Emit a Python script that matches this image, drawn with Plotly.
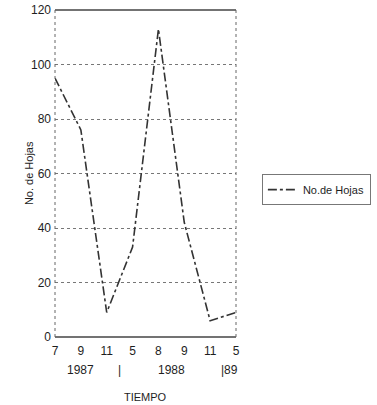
import plotly.graph_objects as go

# Data
month_labels = ["7", "9", "11", "5", "8", "9", "11", "5"]
hojas = [95, 76, 9, 33, 113, 42, 6, 9]
year_labels = ["1987", "|", "1988", "|89"]
year_pos = [1.0, 2.5, 4.5, 6.75]
y_ticks = [0, 20, 40, 60, 80, 100, 120]

x_idx = list(range(len(month_labels)))
ink = "#1e1e1e"
font_family = "Liberation Sans, Arial, sans-serif"

fig = go.Figure()
fig.add_trace(go.Scatter(
    x=x_idx, y=hojas, mode="lines", name="No.de Hojas",
    line=dict(color="#333333", width=1.6, dash="dashdot"),
))

fig.update_layout(
    width=377, height=405,
    margin=dict(l=55, r=141, t=10, b=68, autoexpand=False),
    paper_bgcolor="white", plot_bgcolor="white",
    font=dict(family=font_family, color=ink, size=12),
    showlegend=True,
    legend=dict(
        x=1.143, y=0.498, xanchor="left", yanchor="top",
        bgcolor="rgba(0,0,0,0)", bordercolor="#777", borderwidth=1,
        font=dict(size=11, color=ink), itemwidth=30,
    ),
    xaxis=dict(
        range=[0, 7], tickvals=x_idx, ticktext=month_labels,
        showgrid=False, zeroline=False, showline=False, automargin=False,
        ticks="", ticklabelstandoff=5, tickfont=dict(size=12, color=ink),
    ),
    yaxis=dict(
        range=[0, 120], tickvals=y_ticks, showgrid=True,
        gridcolor="#777", griddash="dot", gridwidth=1, automargin=False,
        zeroline=False, showline=False, ticks="", ticklabelstandoff=3,
        tickfont=dict(size=12, color=ink),
    ),
)

# frame: solid top/bottom, dotted sides
fig.add_shape(type="line", xref="paper", yref="paper", x0=0, x1=1, y0=1, y1=1,
              line=dict(color="#444", width=1.5))
fig.add_shape(type="line", xref="paper", yref="paper", x0=0, x1=1, y0=0, y1=0,
              line=dict(color="#444", width=1.5))
fig.add_shape(type="line", xref="paper", yref="paper", x0=0, x1=0, y0=0, y1=1,
              line=dict(color="#666", width=1, dash="dot"))
fig.add_shape(type="line", xref="paper", yref="paper", x0=1, x1=1, y0=0, y1=1,
              line=dict(color="#666", width=1, dash="dot"))

for lab, pos in zip(year_labels, year_pos):
    fig.add_annotation(x=pos, y=-0.101, xref="x", yref="paper", text=lab,
                       yanchor="middle", showarrow=False,
                       font=dict(size=12, color=ink))

fig.add_annotation(x=0.5, y=-0.183, xref="paper", yref="paper", text="TIEMPO",
                   yanchor="middle", showarrow=False, font=dict(size=11, color=ink))
fig.add_annotation(x=-0.19, y=0.5, xref="paper", yref="paper", text="No. de Hojas",
                   textangle=-90, showarrow=False, font=dict(size=11, color=ink))

fig.write_html("out.html")
